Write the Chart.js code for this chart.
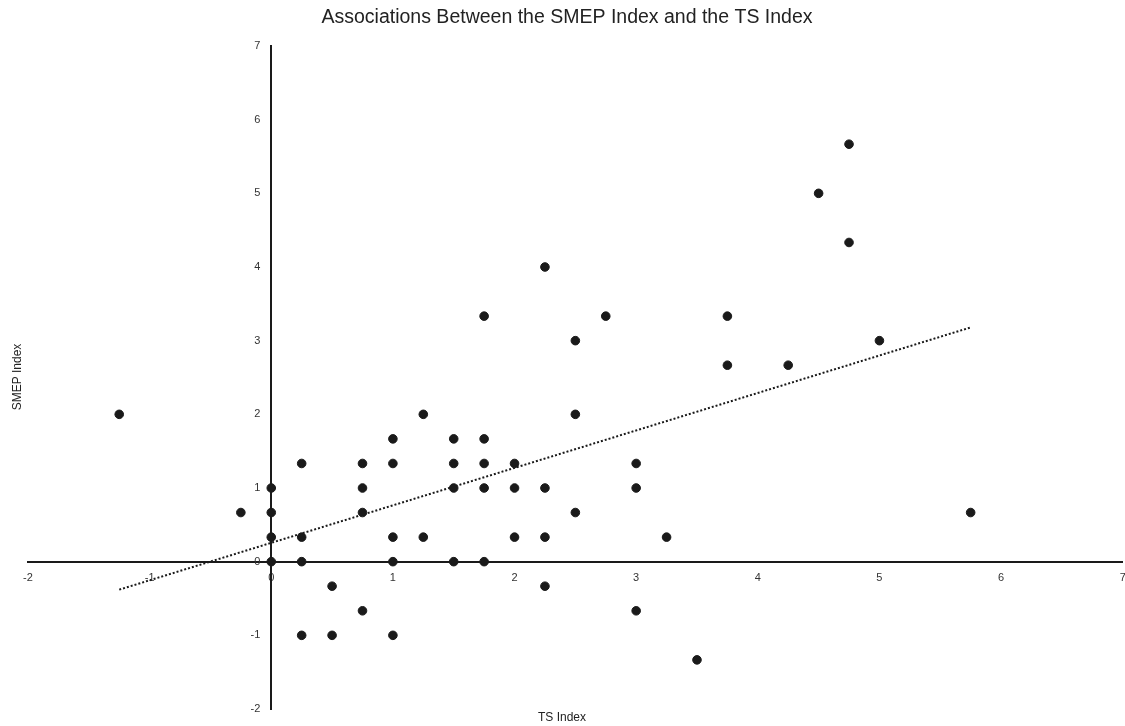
<!DOCTYPE html>
<html>
<head>
<meta charset="utf-8">
<script src="https://cdn.jsdelivr.net/npm/chart.js@4"></script>
<style>
  html, body { margin: 0; padding: 0; background: #fff; overflow: hidden; }
  #wrap { width: 1128px; height: 726px; position: relative; }
</style>
</head>
<body>
<div id="wrap"><canvas id="chart"></canvas></div>
<script>
const tsIndex = [
  -1.25, -0.25, 0, 0, 0, 0, 0.25, 0.25, 0.25, 0.25, 0.5, 0.5,
  0.75, 0.75, 0.75, 0.75, 1, 1, 1, 1, 1, 1.25, 1.25,
  1.5, 1.5, 1.5, 1.5, 1.75, 1.75, 1.75, 1.75, 1.75,
  2, 2, 2, 2.25, 2.25, 2.25, 2.25, 2.5, 2.5, 2.5, 2.75,
  3, 3, 3, 3.25, 3.5, 3.75, 3.75, 4.25, 4.5, 4.75, 4.75, 5, 5.75
];
const smepIndex = [
  2, 0.667, 1, 0.667, 0.333, 0, 1.333, 0.333, 0, -1, -0.333, -1,
  1.333, 1, 0.667, -0.667, 1.667, 1.333, 0.333, 0, -1, 2, 0.333,
  1.667, 1.333, 1, 0, 3.333, 1.667, 1.333, 1, 0,
  1.333, 1, 0.333, 4, 1, 0.333, -0.333, 3, 2, 0.667, 3.333,
  1.333, 1, -0.667, 0.333, -1.333, 3.333, 2.667, 2.667, 5, 5.667, 4.333, 3, 0.667
];
// trend line end points
const trendX = [-1.25, 5.75];
const trendY = [-0.38, 3.18];
const axisTicks = [-2, -1, 0, 1, 2, 3, 4, 5, 6, 7];

const points = tsIndex.map((x, i) => ({ x, y: smepIndex[i] }));
const trend = trendX.map((x, i) => ({ x, y: trendY[i] }));

// title and axis titles, placed by hand (the axes sit in the middle of the plot)
const titles = {
  id: 'titles',
  afterDraw(chart) {
    const ctx = chart.ctx;
    ctx.save();
    ctx.fillStyle = '#222';
    ctx.textAlign = 'center';
    ctx.textBaseline = 'middle';
    ctx.font = '19.5px "Liberation Sans", Arial, sans-serif';
    ctx.fillText('Associations Between the SMEP Index and the TS Index', 567, 18);
    ctx.font = '12px "Liberation Sans", Arial, sans-serif';
    ctx.fillText('TS Index', 562, 718);
    ctx.translate(18, 377);
    ctx.rotate(-Math.PI / 2);
    ctx.fillText('SMEP Index', 0, 0);
    ctx.restore();
  }
};

const tickFont = { family: '"Liberation Sans", Arial, sans-serif', size: 11 };

new Chart(document.getElementById('chart'), {
  type: 'scatter',
  data: {
    datasets: [
      {
        label: 'SMEP vs TS',
        data: points,
        backgroundColor: '#1a1a1a',
        borderColor: '#1a1a1a',
        pointRadius: 4.3,
        pointHoverRadius: 4.3
      },
      {
        label: 'Trend',
        type: 'line',
        data: trend,
        borderColor: '#1a1a1a',
        borderWidth: 2,
        borderDash: [2, 2],
        pointRadius: 0,
        fill: false
      }
    ]
  },
  options: {
    responsive: true,
    maintainAspectRatio: false,
    animation: false,
    layout: { padding: { left: 28, right: 0, top: 46, bottom: 17 } },
    plugins: {
      legend: { display: false },
      tooltip: { enabled: false },
      title: { display: false }
    },
    scales: {
      x: {
        type: 'linear',
        position: { y: 0 },
        min: -2,
        max: 7,
        afterBuildTicks: s => { s.ticks = axisTicks.map(v => ({ value: v })); },
        grid: { display: false },
        border: { color: '#1a1a1a', width: 2 },
        ticks: { color: '#333', font: tickFont, padding: 2 }
      },
      y: {
        type: 'linear',
        position: { x: 0 },
        min: -2,
        max: 7,
        afterBuildTicks: s => { s.ticks = axisTicks.map(v => ({ value: v })); },
        grid: { display: false },
        border: { color: '#1a1a1a', width: 2 },
        // labels sit right-aligned on the axis line, so pad them with en spaces
        ticks: { color: '#333', font: tickFont, callback: v => v + '\u2002\u2002' }
      }
    }
  },
  plugins: [titles]
});
</script>
</body>
</html>
